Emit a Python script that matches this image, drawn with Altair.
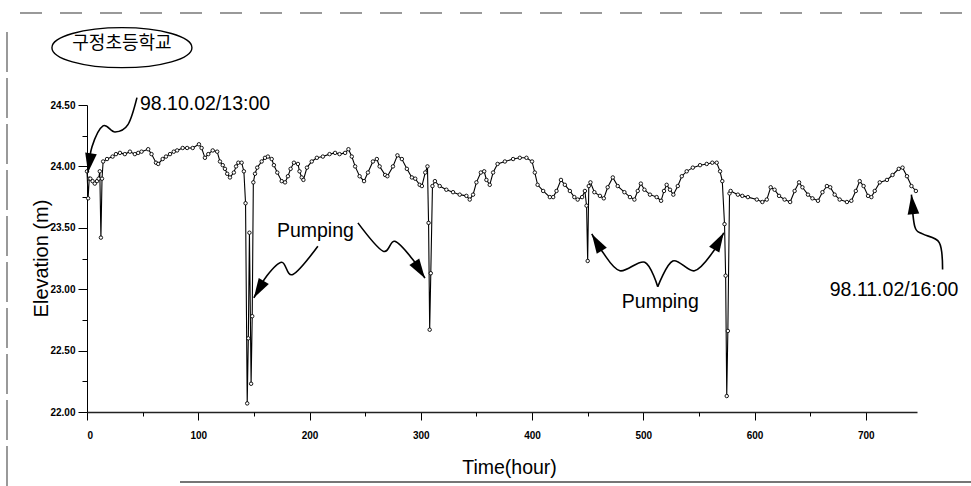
import math
import altair as alt
import pandas as pd

# ---------------- data ----------------
hours = [0, 1, 2, 3, 5, 7, 9, 10.5, 11.5, 12.5, 13.5, 14.5, 18, 23, 26, 29.6, 34, 38.6, 43, 46, 49, 55, 58, 62, 64, 68,
         71, 74.6, 78, 81, 86, 90, 95, 100.6, 103, 106, 109, 113, 117, 119.5, 122, 124, 126, 128.5, 132, 134, 136, 139,
         141, 142.5, 144, 145, 146, 147.5, 148.5, 149.5, 151, 153, 157, 160, 162.6, 166, 168, 171, 175, 178, 180.6,
         183, 186, 189.6, 191, 193, 194.5, 197.7, 202, 206.6, 212, 218, 223, 227, 232, 235, 238, 241, 245, 249, 252.5,
         257, 260.5, 263, 268, 270, 275, 279, 283, 287.5, 292, 295, 299, 301, 304, 306, 307, 308, 309, 310.5, 312.7,
         317, 323, 329, 335, 341, 344, 347, 350, 354, 357, 359, 362, 365, 369, 375.6, 383, 389, 395, 400, 402.5, 405,
         410, 416, 419, 422, 426, 429.5, 434, 438, 441, 445, 447.5, 449, 450, 451, 452.5, 456, 461, 464.5, 468, 472.6,
         477, 483, 488, 492, 495, 497.8, 501, 506, 512, 516, 518.6, 521, 524, 527, 531, 534.6, 539, 544.5, 551, 557,
         562, 566, 569, 571, 573, 574, 575, 576, 577.5, 578.5, 585, 589, 594, 602, 607, 611, 614.5, 618, 622, 627, 632,
         636, 640, 643, 648, 652, 657, 661, 665, 668, 672, 676.5, 683, 687, 691, 694.5, 698, 702, 705, 708, 712.5, 719,
         724, 729.6, 733, 737, 741, 745]
elev = [23.96, 23.74, 23.90, 23.90, 23.88, 23.86, 23.88, 23.90, 23.96, 23.42, 23.90, 24.04, 24.06, 24.08, 24.10, 24.11,
        24.10, 24.12, 24.10, 24.11, 24.12, 24.14, 24.10, 24.03, 24.02, 24.06, 24.08, 24.10, 24.12, 24.13, 24.15, 24.15,
        24.15, 24.18, 24.15, 24.07, 24.10, 24.13, 24.12, 24.04, 24.01, 23.98, 23.94, 23.91, 23.95, 24.00, 24.03, 24.03,
        23.96, 23.70, 22.07, 22.60, 23.46, 22.23, 22.78, 23.87, 23.94, 23.99, 24.04, 24.07, 24.08, 24.06, 24.01, 23.95,
        23.88, 23.87, 23.92, 23.98, 24.03, 24.02, 23.96, 23.91, 23.89, 23.99, 24.04, 24.07, 24.08, 24.10, 24.11, 24.10,
        24.11, 24.14, 24.08, 24.00, 23.92, 23.88, 23.95, 24.04, 24.06, 24.00, 23.93, 23.92, 24.00, 24.09, 24.06, 23.98,
        23.91, 23.90, 23.85, 23.84, 23.95, 24.00, 23.54, 22.67, 23.13, 23.84, 23.88, 23.84, 23.81, 23.79, 23.77, 23.76,
        23.73, 23.77, 23.87, 23.95, 23.96, 23.89, 23.85, 23.95, 24.02, 24.04, 24.06, 24.07, 24.07, 24.04, 23.95, 23.85,
        23.80, 23.75, 23.75, 23.80, 23.89, 23.85, 23.80, 23.75, 23.73, 23.75, 23.80, 23.68, 23.23, 23.84, 23.87, 23.79,
        23.76, 23.74, 23.83, 23.91, 23.84, 23.79, 23.75, 23.73, 23.80, 23.86, 23.81, 23.77, 23.75, 23.72, 23.80, 23.85,
        23.81, 23.77, 23.84, 23.92, 23.96, 23.99, 24.01, 24.02, 24.03, 24.03, 23.96, 23.88, 23.53, 23.11, 22.13, 22.66,
        23.78, 23.80, 23.77, 23.76, 23.75, 23.73, 23.71, 23.73, 23.83, 23.81, 23.76, 23.73, 23.71, 23.80, 23.87, 23.83,
        23.77, 23.74, 23.72, 23.79, 23.84, 23.83, 23.77, 23.73, 23.71, 23.72, 23.80, 23.88, 23.84, 23.76, 23.75, 23.80,
        23.87, 23.89, 23.93, 23.98, 23.99, 23.92, 23.84, 23.80]

x_ticks = [0, 100, 200, 300, 400, 500, 600, 700]
x_minor = [50, 150, 250, 350, 450, 550, 650]
y_ticks = [22.0, 22.5, 23.0, 23.5, 24.0, 24.5]
y_minor = [22.25, 22.75, 23.25, 23.75, 24.25]

# annotation arrows (data units: hour, elevation)
arrow_id = [1, 1, 1, 1, 1, 1,
            2, 2, 2, 2, 2,
            3, 3, 3, 3, 3,
            4, 4, 4, 4, 4,
            5, 5, 5, 5, 5,
            6, 6, 6, 6, 6]
arrow_x = [44.9, 36.8, 25.2, 14.4, 4.5, 0.9,
           207.5, 185.0, 175.0, 161.7, 150.0,
           243.5, 266.0, 276.7, 293.0, 303.7,
           513.0, 501.3, 479.0, 463.6, 453.7,
           513.0, 526.5, 546.0, 562.4, 572.3,
           769.0, 766.0, 751.0, 744.0, 741.0]
arrow_y = [24.56, 24.34, 24.28, 24.33, 24.16, 23.95,
           23.35, 23.12, 23.22, 23.11, 22.93,
           23.54, 23.31, 23.39, 23.24, 23.09,
           23.02, 23.22, 23.15, 23.30, 23.45,
           23.02, 23.23, 23.15, 23.30, 23.46,
           23.16, 23.38, 23.45, 23.51, 23.77]

label_text = ["98.10.02/13:00", "Pumping", "Pumping", "98.11.02/16:00"]
label_x = [47.6, 170.7, 480.7, 667.6]
label_y = [24.463, 23.423, 22.846, 22.943]

site_name = ["구정초등학교"]
site_x = [31.4]
site_y = [25.0]
site_ellipse_y = [24.967]

# ---------------- layout ----------------
W, H = 830, 307
XMAX = 746
YMIN, YMAX = 22.0, 24.5
FONT = "Liberation Sans"

xs = alt.Scale(domain=[0, XMAX], nice=False, zero=False)
ys = alt.Scale(domain=[YMIN, YMAX], nice=False, zero=False)

series = pd.DataFrame({"hour": hours, "elev": elev, "order": list(range(len(hours)))})

main = alt.Chart(series).mark_line(
    color="black", strokeWidth=1.1,
    point=alt.OverlayMarkDef(filled=False, fill="white", color="black", size=12, strokeWidth=0.9),
).encode(
    x=alt.X("hour:Q", scale=xs, axis=alt.Axis(
        values=x_ticks, orient="bottom", grid=False, tickSize=8, labelPadding=10,
        labelFont=FONT, labelFontSize=10, labelFontWeight="bold", labelColor="black",
        domainColor="#222", domainWidth=1.3, tickColor="black", title="Time(hour)", titleFont=FONT,
        titleFontSize=19.5, titleFontWeight="normal", titleColor="black",
        titleX=422, titleY=61, titleBaseline="alphabetic", titleAlign="center")),
    y=alt.Y("elev:Q", scale=ys, axis=alt.Axis(
        values=y_ticks, orient="left", format=".2f", grid=False, tickSize=9, labelPadding=3,
        labelFont=FONT, labelFontSize=10, labelFontWeight="bold", labelColor="black",
        domainColor="black", tickColor="black", title="Elevation (m)", titleFont=FONT,
        titleFontSize=20, titleFontWeight="normal", titleColor="black",
        titleX=-40, titleY=153, titleAngle=270, titleBaseline="alphabetic", titleAlign="center")),
    order="order:Q",
)

minor = alt.Chart(series).mark_point(opacity=0).encode(
    x=alt.X("hour:Q", scale=xs, axis=alt.Axis(values=x_minor, orient="bottom", labels=False, domain=False,
                                              grid=False, tickSize=4, tickColor="black", title=None)),
    y=alt.Y("elev:Q", scale=ys, axis=alt.Axis(values=y_minor, orient="left", labels=False, domain=False,
                                              grid=False, tickSize=5, tickColor="black", title=None)),
)

arrows_df = pd.DataFrame({"id": arrow_id, "hour": arrow_x, "elev": arrow_y,
                          "seq": list(range(len(arrow_id)))})
arrow_lines = alt.Chart(arrows_df).mark_line(
    color="black", strokeWidth=1.6, interpolate="cardinal", clip=False
).encode(
    x=alt.X("hour:Q", scale=xs, axis=None),
    y=alt.Y("elev:Q", scale=ys, axis=None),
    detail="id:N", order="seq:Q",
)

# arrow heads: tip at last point, rotated along the last segment (computed in pixel space)
heads = []
for aid in sorted(set(arrow_id)):
    idx = [i for i, a in enumerate(arrow_id) if a == aid]
    p, t = idx[-2], idx[-1]
    px0, py0 = arrow_x[p] * W / XMAX, (YMAX - arrow_y[p]) * H / (YMAX - YMIN)
    px1, py1 = arrow_x[t] * W / XMAX, (YMAX - arrow_y[t]) * H / (YMAX - YMIN)
    ang = math.degrees(math.atan2(px1 - px0, -(py1 - py0))) % 360
    heads.append({"hour": arrow_x[t], "elev": arrow_y[t], "ang": ang})
heads_df = pd.DataFrame(heads)
arrow_heads = alt.Chart(heads_df).mark_point(
    shape="M 0 0 L 0.6 2 L -0.6 2 Z", filled=True, color="black", opacity=1, size=380, clip=False
).encode(
    x=alt.X("hour:Q", scale=xs, axis=None),
    y=alt.Y("elev:Q", scale=ys, axis=None),
    angle=alt.Angle("ang:Q", scale=None),
)

labels_df = pd.DataFrame({"text": label_text, "hour": label_x, "elev": label_y})
labels = alt.Chart(labels_df).mark_text(
    font=FONT, fontSize=19.5, align="left", baseline="alphabetic", color="black", clip=False
).encode(
    x=alt.X("hour:Q", scale=xs, axis=None),
    y=alt.Y("elev:Q", scale=ys, axis=None),
    text="text:N",
)

site_df = pd.DataFrame({"text": site_name, "hour": site_x, "elev": site_y, "ey": site_ellipse_y})
site_text = alt.Chart(site_df).mark_text(
    font="Noto Sans CJK KR", fontSize=18, align="center", baseline="middle", color="black", clip=False
).encode(
    x=alt.X("hour:Q", scale=xs, axis=None),
    y=alt.Y("elev:Q", scale=ys, axis=None),
    text="text:N",
)
site_ellipse = alt.Chart(site_df).mark_point(
    shape="M -1 0 A 1 0.286 0 1 1 1 0 A 1 0.286 0 1 1 -1 0 Z",
    filled=False, color="black", strokeWidth=1.4, opacity=1, size=19600, clip=False
).encode(
    x=alt.X("hour:Q", scale=xs, axis=None),
    y=alt.Y("ey:Q", scale=ys, axis=None),
)

# faint scan frame lines
frame_top = alt.Chart(series).mark_rule(color="#999", strokeWidth=1, strokeDash=[22, 18]).encode(
    x=alt.value(-67), x2=alt.value(884), y=alt.value(-92))
frame_left = alt.Chart(series).mark_rule(color="#999", strokeWidth=1, strokeDash=[40, 6]).encode(
    x=alt.value(-80), y=alt.value(-73), y2=alt.value(381))
frame_bottom = alt.Chart(series).mark_rule(color="#777", strokeWidth=1).encode(
    x=alt.value(93), x2=alt.value(884), y=alt.value(377))

chart = alt.layer(
    main, minor, arrow_lines, arrow_heads, labels, site_text, site_ellipse,
    frame_top, frame_left, frame_bottom
).resolve_axis(x="independent", y="independent").properties(
    width=W, height=H,
    autosize=alt.AutoSizeParams(type="none"),
    padding={"left": 87, "top": 105, "right": 54, "bottom": 74},
    background="white",
).configure_view(stroke=None)

chart.save("out.html", embed_options={"renderer": "svg", "actions": False})
